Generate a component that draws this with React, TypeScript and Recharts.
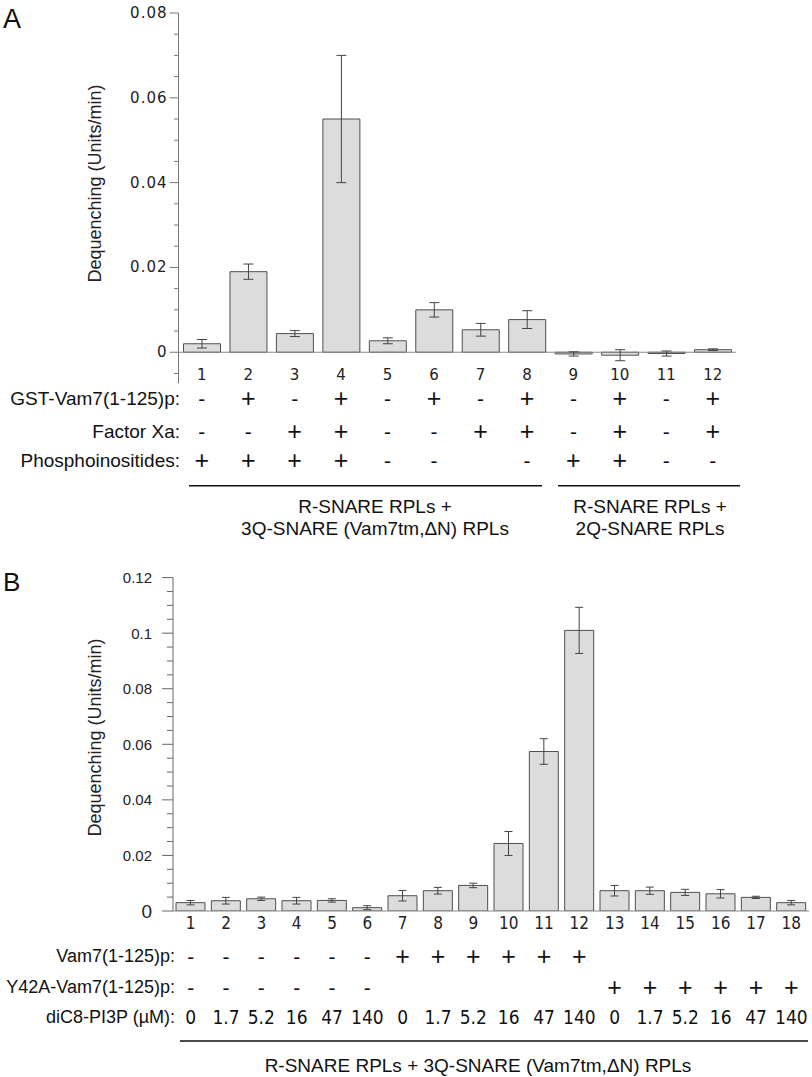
import React from 'react';
import { BarChart, Bar, XAxis, YAxis, ErrorBar, ReferenceLine } from 'recharts';

// Panel A
const lanesA = ['1', '2', '3', '4', '5', '6', '7', '8', '9', '10', '11', '12'];
const dequenchA = [0.002, 0.019, 0.0044, 0.055, 0.0027, 0.01, 0.0053, 0.0077, -0.0004, -0.0007, -0.0003, 0.0006];
const errA = [0.001, 0.0018, 0.0007, 0.015, 0.0007, 0.0017, 0.0015, 0.0021, 0.0005, 0.0013, 0.0006, 0.0002];
const gstRow = ['-', '+', '-', '+', '-', '+', '-', '+', '-', '+', '-', '+'];
const xaRow = ['-', '-', '+', '+', '-', '-', '+', '+', '-', '+', '-', '+'];
const piRow = ['+', '+', '+', '+', '-', '-', '', '-', '+', '+', '-', '-'];
const ticksA = [-0.005, 0, 0.005, 0.01, 0.015, 0.02, 0.025, 0.03, 0.035, 0.04, 0.045, 0.05, 0.055, 0.06, 0.065, 0.07, 0.075, 0.08];

// Panel B
const lanesB = ['1', '2', '3', '4', '5', '6', '7', '8', '9', '10', '11', '12', '13', '14', '15', '16', '17', '18'];
const dequenchB = [0.003, 0.0037, 0.0044, 0.0037, 0.0038, 0.0012, 0.0055, 0.0073, 0.0092, 0.0243, 0.0574, 0.101, 0.0073, 0.0073, 0.0067, 0.0062, 0.0049, 0.003];
const errB = [0.0008, 0.0012, 0.0006, 0.0012, 0.0006, 0.0007, 0.0019, 0.0012, 0.0008, 0.0043, 0.0046, 0.0083, 0.0019, 0.0013, 0.0011, 0.0015, 0.0004, 0.0008];
const vamRow = ['-', '-', '-', '-', '-', '-', '+', '+', '+', '+', '+', '+', '', '', '', '', '', ''];
const y42aRow = ['-', '-', '-', '-', '-', '-', '', '', '', '', '', '', '+', '+', '+', '+', '+', '+'];
const pi3pRow = ['0', '1.7', '5.2', '16', '47', '140', '0', '1.7', '5.2', '16', '47', '140', '0', '1.7', '5.2', '16', '47', '140'];
const ticksB = [0, 0.005, 0.01, 0.015, 0.02, 0.025, 0.03, 0.035, 0.04, 0.045, 0.05, 0.055, 0.06, 0.065, 0.07, 0.075, 0.08, 0.085, 0.09, 0.095, 0.1, 0.105, 0.11, 0.115, 0.12];

const dataA = lanesA.map((lane, i) => ({ lane, value: dequenchA[i], err: errA[i] }));
const dataB = lanesB.map((lane, i) => ({ lane, value: dequenchB[i], err: errB[i] }));

const SANS = "'Liberation Sans', Arial, Helvetica, sans-serif";
const NARROW = "'Liberation Sans Narrow', 'DejaVu Sans Condensed', 'Liberation Sans', sans-serif";
const WIDE = "'DejaVu Sans', 'Liberation Sans', sans-serif";

const isMajor = (v: number) => v >= 0 && Math.abs(v / 0.02 - Math.round(v / 0.02)) < 1e-6;

const YTickA = ({ x, y, payload }: any) => {
  const v = payload.value;
  const major = isMajor(v);
  return (
    <g>
      <line x1={x - (major ? 9 : 4.5)} x2={x} y1={y} y2={y} stroke="#777" strokeWidth={1} />
      {major && (
        <text x={x - 11} y={y} textAnchor="end" dominantBaseline="central" fontSize={15} fontFamily={WIDE} letterSpacing={1} fill="#222">
          {String(v)}
        </text>
      )}
    </g>
  );
};

const YTickB = ({ x, y, payload }: any) => {
  const v = payload.value;
  const major = isMajor(v);
  return (
    <g>
      <line x1={x - (major ? 11 : 6)} x2={x} y1={y} y2={y} stroke="#666" strokeWidth={1} />
      {major && (
        <text x={x - 21} y={y} textAnchor="end" dominantBaseline="central" fontSize={v === 0 ? 19 : 15} fontFamily={SANS} fill="#222">
          {String(v)}
        </text>
      )}
    </g>
  );
};

// +/- marks of the condition table
const Mark = ({ x, y, s }: any) => (
  <text x={x} y={y} fontSize={s === '+' ? 25 : 21} fontFamily={SANS} fill="#111">{s}</text>
);

const XTickA = ({ x, y, payload }: any) => {
  const i = lanesA.indexOf(String(payload.value));
  return (
    <g textAnchor="middle" dominantBaseline="central">
      <text x={x} y={y - 8} fontSize={15} fontFamily={WIDE} fill="#222">{lanesA[i]}</text>
      <Mark x={x} y={y + 15} s={gstRow[i]} />
      <Mark x={x} y={y + 48} s={xaRow[i]} />
      <Mark x={x} y={y + 77} s={piRow[i]} />
    </g>
  );
};

const XTickB = ({ x, y, payload }: any) => {
  const i = lanesB.indexOf(String(payload.value));
  return (
    <g textAnchor="middle" dominantBaseline="central">
      <text x={x} y={y + 12} fontSize={17} fontFamily={NARROW} fill="#222">{lanesB[i]}</text>
      <Mark x={x} y={y + 45} s={vamRow[i]} />
      <Mark x={x} y={y + 76} s={y42aRow[i]} />
      <text x={x} y={y + 106} fontSize={19} fontFamily={NARROW} fill="#111">{pi3pRow[i]}</text>
    </g>
  );
};

const label = { fontFamily: SANS, fontSize: 19, fill: '#111' };

export default function App() {
  return (
    <div style={{ position: 'absolute', left: 0, top: 0, width: 812, height: 1077, background: '#fff' }}>
      <div style={{ position: 'absolute', left: 0, top: 0 }}>
        <BarChart width={812} height={490} data={dataA} margin={{ top: 13, right: 76, bottom: 0, left: 0 }}>
          <XAxis
            dataKey="lane"
            height={106.8}
            axisLine={false}
            tickLine={false}
            tickSize={0}
            tickMargin={0}
            interval={0}
            tick={<XTickA />}
          />
          <YAxis
            type="number"
            width={178.5}
            domain={[-0.0073, 0.08]}
            allowDataOverflow
            ticks={ticksA}
            interval={0}
            tickSize={0}
            tickMargin={0}
            tickLine={false}
            axisLine={{ stroke: '#777' }}
            tick={<YTickA />}
          />
          <ReferenceLine y={0} stroke="#888" strokeWidth={1} />
          <Bar dataKey="value" fill="#dcdcdc" stroke="#4f4f4f" strokeWidth={1} barSize={37} isAnimationActive={false}>
            <ErrorBar dataKey="err" width={5} stroke="#444" strokeWidth={1} isAnimationActive={false} />
          </Bar>
        </BarChart>
      </div>
      <div style={{ position: 'absolute', left: 0, top: 560 }}>
        <BarChart width={812} height={480} data={dataB} margin={{ top: 17.6, right: 3, bottom: 0, left: 0 }}>
          <XAxis
            dataKey="lane"
            height={129}
            axisLine={false}
            tickLine={false}
            tickSize={0}
            tickMargin={0}
            interval={0}
            tick={<XTickB />}
          />
          <YAxis
            type="number"
            width={173}
            domain={[0, 0.12]}
            allowDataOverflow
            ticks={ticksB}
            interval={0}
            tickSize={0}
            tickMargin={0}
            tickLine={false}
            axisLine={{ stroke: '#666' }}
            tick={<YTickB />}
          />
          <ReferenceLine y={0} stroke="#888" strokeWidth={1} />
          <Bar dataKey="value" fill="#dcdcdc" stroke="#4f4f4f" strokeWidth={1} barSize={29} isAnimationActive={false}>
            <ErrorBar dataKey="err" width={4} stroke="#444" strokeWidth={1} isAnimationActive={false} />
          </Bar>
        </BarChart>
      </div>
      <svg width={812} height={1077} style={{ position: 'absolute', left: 0, top: 0, pointerEvents: 'none' }}>
        <text x={3} y={28} fontSize={27} fontFamily={SANS} fill="#111">A</text>
        <text x={3} y={591} fontSize={26} fontFamily={SANS} fill="#111">B</text>

        <text x={95} y={183.5} transform="rotate(-90 95 183.5)" textAnchor="middle" dominantBaseline="central" fontSize={18} fontFamily={SANS} fill="#222">
          Dequenching (Units/min)
        </text>
        <text x={95} y={737.5} transform="rotate(-90 95 737.5)" textAnchor="middle" dominantBaseline="central" fontSize={18} fontFamily={SANS} fill="#222">
          Dequenching (Units/min)
        </text>

        <g textAnchor="end" dominantBaseline="central" {...label}>
          <text x={180} y={398}>GST-Vam7(1-125)p:</text>
          <text x={180} y={431}>Factor Xa:</text>
          <text x={180} y={460}>Phosphoinositides:</text>
        </g>
        <g textAnchor="end" dominantBaseline="central" {...label} fontSize={18}>
          <text x={175} y={956}>Vam7(1-125)p:</text>
          <text x={175} y={987}>Y42A-Vam7(1-125)p:</text>
          <text x={175} y={1017}>diC8-PI3P (µM):</text>
        </g>

        <line x1={189} x2={542} y1={485.7} y2={485.7} stroke="#111" strokeWidth={1.5} />
        <line x1={558} x2={740} y1={485.7} y2={485.7} stroke="#111" strokeWidth={1.5} />
        <line x1={180} x2={808} y1={1041} y2={1041} stroke="#111" strokeWidth={1.5} />

        <g textAnchor="middle" dominantBaseline="central" {...label}>
          <text x={375} y={506}>R-SNARE RPLs +</text>
          <text x={375} y={528}>3Q-SNARE (Vam7tm,ΔN) RPLs</text>
          <text x={650} y={506}>R-SNARE RPLs +</text>
          <text x={650} y={528}>2Q-SNARE RPLs</text>
          <text x={478} y={1065}>R-SNARE RPLs + 3Q-SNARE (Vam7tm,ΔN) RPLs</text>
        </g>
      </svg>
    </div>
  );
}
